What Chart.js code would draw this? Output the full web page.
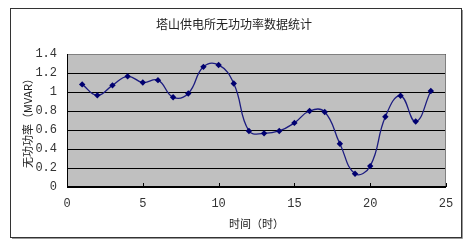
<!DOCTYPE html>
<html><head><meta charset="utf-8">
<script src="https://cdn.jsdelivr.net/npm/chart.js@4/dist/chart.umd.min.js"></script>
<style>html,body{margin:0;padding:0;background:#fff;}#wrap{width:468px;height:246px;}</style>
</head><body><div id="wrap"><canvas id="c" width="468" height="246"></canvas></div>
<script>
const titleText = '塔山供电所无功功率数据统计';
const xTitle = '时间（时）';
const yTitle = '无功功率（MVAR）';
const hours = [1,2,3,4,5,6,7,8,9,10,11,12,13,14,15,16,17,18,19,20,21,22,23,24];
const mvar = [1.08,0.965,1.07,1.165,1.10,1.125,0.945,0.985,1.265,1.285,1.09,0.59,0.565,0.59,0.675,0.80,0.79,0.455,0.14,0.22,0.74,0.96,0.69,1.01];
const xTicks = [0,5,10,15,20,25];
const yTicks = [0,0.2,0.4,0.6,0.8,1,1.2,1.4];

const deco = {
  id:'deco',
  beforeDraw(chart){
    const {ctx, chartArea:a} = chart;
    ctx.save();
    ctx.fillStyle='#fff'; ctx.fillRect(0,0,chart.width,chart.height);
    ctx.strokeStyle='#333'; ctx.lineWidth=1;
    ctx.strokeRect(10.5,8.5,451,229);
    ctx.strokeStyle='#999';
    ctx.beginPath(); ctx.moveTo(12,238.5); ctx.lineTo(462.5,238.5); ctx.lineTo(462.5,10); ctx.stroke();
    ctx.fillStyle='#c0c0c0';
    ctx.fillRect(a.left,a.top,a.right-a.left,a.bottom-a.top);
    ctx.restore();
  },
  beforeDatasetsDraw(chart){
    const {ctx, chartArea:a} = chart;
    ctx.save();
    ctx.strokeStyle='#808080'; ctx.lineWidth=1;
    ctx.beginPath();
    ctx.moveTo(a.left, a.top+0.5); ctx.lineTo(a.right-0.5, a.top+0.5); ctx.lineTo(a.right-0.5, a.bottom);
    ctx.stroke();
    const xs = chart.scales.x;
    ctx.strokeStyle='#000';
    ctx.beginPath();
    xTicks.forEach(v=>{const px=Math.round(xs.getPixelForValue(v))+0.5; ctx.moveTo(px,a.bottom); ctx.lineTo(px,a.bottom-4);});
    ctx.moveTo(a.left+0.5,a.top); ctx.lineTo(a.left+0.5,a.bottom);
    ctx.moveTo(a.left,a.bottom-0.5); ctx.lineTo(a.right,a.bottom-0.5);
    ctx.stroke();
    ctx.restore();
  }
};

new Chart(document.getElementById('c'), {
  type:'line',
  data:{datasets:[{
    data: hours.map((h,i)=>({x:h,y:mvar[i]})),
    borderColor:'#1c1c80', backgroundColor:'#000080',
    borderWidth:1.3, tension:0.45, cubicInterpolationMode:'default',
    pointStyle:'rectRot', pointRadius:3.2, pointBorderWidth:0,
    pointBackgroundColor:'#000070'
  }]},
  options:{
    responsive:false, animation:false, devicePixelRatio:1,
    layout:{padding:{left:0,right:0,top:0,bottom:0}},
    plugins:{
      legend:{display:false}, tooltip:{enabled:false},
      title:{display:true,text:titleText,color:'#222',
        font:{family:'"Noto Sans CJK SC"',size:12,weight:'normal',lineHeight:1.2},
        padding:{top:17,bottom:22.6}}
    },
    scales:{
      x:{type:'linear',min:0,max:25,
        afterBuildTicks(s){s.ticks=xTicks.map(v=>({value:v}));},
        afterFit(s){s.height=59;},
        grid:{display:false,drawTicks:false},
        border:{display:false},
        ticks:{padding:10,color:'#333',font:{family:'"Liberation Mono"',size:12},maxRotation:0},
        title:{display:true,text:xTitle,color:'#222',
          font:{family:'"Noto Sans CJK SC"',size:11,lineHeight:1.2},padding:{top:0,bottom:15.5}}
      },
      y:{min:0,max:1.4,
        afterBuildTicks(s){s.ticks=yTicks.map(v=>({value:v}));},
        afterFit(s){s.width=67;},
        grid:{color:'#000',lineWidth:1,drawTicks:false},
        border:{display:false},
        ticks:{padding:10,color:'#333',font:{family:'"Liberation Mono"',size:12},
          callback:v=>String(Number(v.toFixed(1)))},
        title:{display:true,text:yTitle,color:'#222',
          font:{family:'"Noto Sans CJK SC"',size:11,lineHeight:1.2},padding:{top:21.5,bottom:0}}
      },
      yr:{position:'right',display:true,min:0,max:1.4,
        afterFit(s){s.width=22;},
        grid:{display:false,drawTicks:false},border:{display:false},
        ticks:{display:false}}
    }
  },
  plugins:[deco]
});
</script></body></html>
